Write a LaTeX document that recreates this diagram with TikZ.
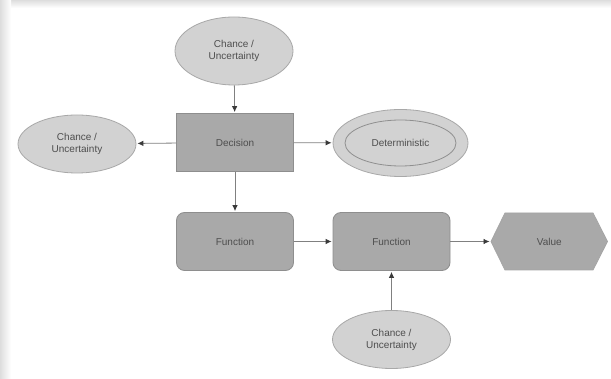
\documentclass[tikz,border=0pt]{standalone}
\usepackage{fontspec}
\setmainfont{Liberation Sans}
\usetikzlibrary{arrows.meta,shapes.geometric}
\definecolor{bgband}{HTML}{EEEEEE}
\definecolor{ellfill}{HTML}{D2D2D2}
\definecolor{elldraw}{HTML}{A8A8A8}
\definecolor{boxfill}{HTML}{A9A9A9}
\definecolor{boxdraw}{HTML}{8E8E8E}
\definecolor{txt}{HTML}{4E4E4E}
\definecolor{lin}{HTML}{808080}
\definecolor{tip}{HTML}{3A3A3A}
\tikzset{
  lbl/.style={font=\fontsize{10}{12}\selectfont, text=txt, align=center},
  chance/.style={lbl, ellipse, draw=elldraw, fill=ellfill, line width=0.8pt, inner sep=0pt, minimum width=118pt, minimum height=58pt},
  boxnode/.style={lbl, rectangle, draw=boxdraw, fill=boxfill, line width=0.8pt, minimum width=117pt, minimum height=58pt},
  funcbox/.style={boxnode, rounded corners=8pt},
  conn/.style={draw=lin, line width=0.8pt, shorten >=1pt, -{Latex[length=6pt,width=5.5pt,color=tip]}}
}
\begin{document}
\begin{tikzpicture}[x=1pt,y=-1pt]
\useasboundingbox (0,0) rectangle (611,379);
\fill[white] (0,0) rectangle (611,379);
\shade[top color=bgband!85!gray, bottom color=white] (0,0) rectangle (611,8);
\shade[left color=bgband!85!gray, right color=white] (0,0) rectangle (11,379);
\fill[white] (11,8) rectangle (611,379);

\node[chance, minimum height=68pt] (c1) at (234,51) {Chance /\\Uncertainty};
\node[boxnode] (dec) at (235,142.5) {Decision};
\node[chance] (c2) at (77,144) {Chance /\\Uncertainty};
\node[chance, minimum width=135pt, minimum height=67pt] (det) at (400.5,143) {};
\node[lbl, ellipse, draw=elldraw!85!black, line width=0.8pt, inner sep=0pt, minimum width=111pt, minimum height=46pt] (deti) at (400.5,143) {Deterministic};
\node[funcbox] (f1) at (235,241.5) {Function};
\node[funcbox] (f2) at (391.5,241.5) {Function};
\fill[boxfill, draw=boxdraw!80!white, line width=0.8pt] (491,241.5) -- (505,213) -- (593,213) -- (607.5,241.5) -- (593,270) -- (505,270) -- cycle;
\node[lbl, minimum width=117pt, minimum height=57pt, inner sep=0pt] (val) at (549.25,241.5) {Value};
\node[chance] (c3) at (391.5,339.5) {Chance /\\Uncertainty};

\draw[conn] (c1) -- (dec);
\draw[conn] (dec) -- (c2);
\draw[conn] (dec) -- (det);
\draw[conn] (dec) -- (f1);
\draw[conn] (f1) -- (f2);
\draw[conn] (f2) -- (val.west);
\draw[conn] (c3) -- (f2);
\end{tikzpicture}
\end{document}
